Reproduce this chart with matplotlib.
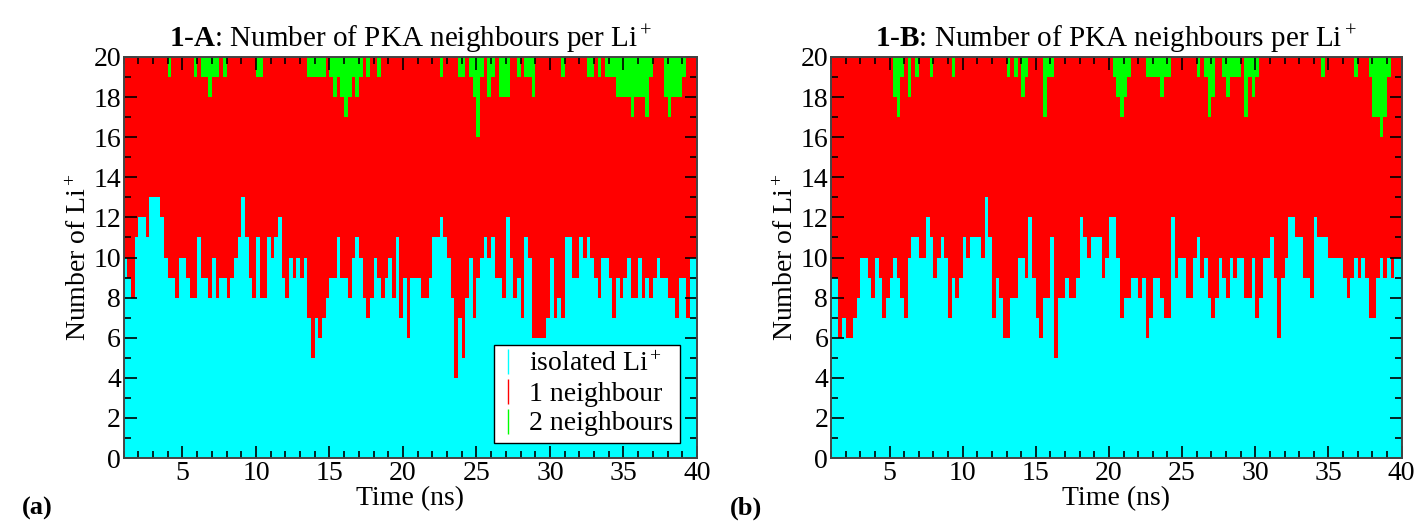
import numpy as np
import matplotlib
matplotlib.use("Agg")
import matplotlib.pyplot as plt
from matplotlib.lines import Line2D
from matplotlib.ticker import MultipleLocator

plt.rcParams["font.family"] = "Liberation Serif"
plt.rcParams["mathtext.fontset"] = "custom"
plt.rcParams["mathtext.rm"] = "Liberation Serif"
plt.rcParams["mathtext.it"] = "Liberation Serif:italic"
plt.rcParams["mathtext.bf"] = "Liberation Serif:bold"

# --- Data (0.25 ns bins from 1 to 40 ns) ---
t_start = 1.0
t_step = 0.25
n_li = 20

# 1-A: isolated Li+ per bin
iso_a = [10, 9, 8, 11, 12, 12, 11, 13, 13, 13,
         12, 10, 9, 9, 8, 10, 10, 9, 8, 8,
         11, 9, 9, 8, 10, 8, 9, 9, 8, 9,
         10, 11, 13, 11, 9, 8, 11, 8, 8, 11,
         10, 11, 12, 9, 8, 10, 9, 10, 9, 10,
         7, 5, 7, 6, 7, 8, 9, 9, 11, 9,
         9, 8, 10, 11, 10, 8, 7, 8, 10, 9,
         8, 9, 10, 8, 11, 7, 9, 6,
         9, 9, 9, 8, 8, 9, 11, 11, 12, 11,
         10, 8, 4, 7, 5, 8, 10, 7, 9, 10,
         11, 10, 11, 9, 9, 8, 12, 10, 8, 9,
         7, 11, 10, 6, 6, 6, 6, 7, 10, 7,
         8, 7, 11, 11, 9, 9, 11, 10, 11, 10,
         9, 8, 10, 10, 9, 7, 9, 8, 9, 10,
         8, 8, 10, 8, 9, 8, 9, 10, 9, 9,
         8, 8, 7, 9, 9, 7, 10, 10]

# 1-A: Li+ with 2 neighbours per bin
two_a = [0, 0, 0, 0, 0, 0, 0, 0, 0, 0,
         0, 0, 1, 0, 0, 0, 0, 0, 0, 1,
         0, 1, 1, 2, 1, 1, 0, 1, 0, 0,
         0, 0, 0, 0, 0, 0, 1, 1, 0, 0,
         0, 0, 0, 0, 0, 0, 0, 0, 0, 0,
         1, 1, 1, 1, 1, 0, 1, 2, 1, 2,
         3, 2, 1, 2, 1, 0, 1, 0, 0, 1,
         0, 0, 0, 0, 0, 0, 0, 0, 0, 0,
         0, 0, 0, 0, 0, 0, 1, 0, 0, 0,
         0, 1, 1, 0, 1, 2, 4, 1, 0, 2,
         1, 0, 2, 2, 2, 0, 0, 1, 0, 1,
         1, 2, 0, 0, 0, 0, 0, 0, 0, 1,
         0, 0, 0, 0, 0, 0, 1, 1, 0, 1,
         0, 1, 1, 1, 2, 2, 2, 2, 3, 2,
         2, 2, 3, 1, 0, 0, 0, 2, 3, 2,
         2, 2, 1, 0, 0, 0]

# 1-B: isolated Li+ per bin
iso_b = [9, 9, 6, 7, 6, 6, 7, 8, 10, 10,
         9, 8, 10, 9, 7, 8, 9, 10, 9, 8,
         7, 10, 11, 11, 10, 10, 12, 11, 9, 10,
         11, 10, 7, 9, 8, 9, 11, 10, 11, 11,
         11, 10, 13, 11, 7, 9, 8, 6, 6, 8,
         8, 10, 10, 9, 12, 9, 7, 6, 8, 8,
         11, 5, 8, 8, 9, 8, 8, 9, 12, 11,
         10, 11, 11, 11, 9, 10,
         12, 12, 10, 7, 8, 8, 9, 9, 8, 9,
         6, 7, 9, 9, 8, 7, 7, 12, 9, 10,
         10, 8, 8, 10, 11, 9, 10, 8, 7, 8,
         10, 9, 8, 10, 9, 10, 10, 8, 8, 10,
         7, 8, 10, 10, 11, 9, 6, 9, 10, 12,
         12, 11, 11, 9, 9, 8, 12, 11, 11, 11,
         10, 10, 10, 10, 9, 8, 9, 10, 9, 10,
         9, 7, 7, 9, 10, 9, 10, 9, 10, 10]

# 1-B: Li+ with 2 neighbours per bin
two_b = [0, 0, 0, 0, 0, 0, 0, 0, 0, 0,
         0, 0, 0, 0, 0, 0, 0, 2, 3, 1,
         0, 2, 0, 1, 0, 0, 0, 1, 0, 0,
         0, 0, 0, 1, 0, 0, 0, 0, 0, 0,
         0, 0, 0, 0, 0, 0, 0, 0, 1, 0,
         1, 0, 2, 1, 0, 0, 0, 0, 3, 1,
         1, 0, 0, 0, 0, 0, 0, 0, 0, 0,
         0, 0, 0, 0, 0, 0, 0, 1, 2, 3,
         2, 1, 0, 0, 0, 0, 1, 1, 1, 1,
         2, 1, 1, 0, 0, 0, 0, 0, 0, 0,
         1, 0, 1, 3, 2, 0, 0, 1, 2, 1,
         1, 1, 0, 3, 1, 2, 1, 0, 0, 0,
         0, 0, 0, 0, 0, 0, 0, 0, 0, 0,
         0, 0, 0, 0, 1, 0, 0, 0, 0, 0,
         0, 0, 0, 1, 0, 0, 0, 1, 3, 3,
         4, 3, 1, 0, 0, 0]

panels = [
    ("1", "A", iso_a, two_a, "(a)"),
    ("1", "B", iso_b, two_b, "(b)"),
]

c_iso = "#00ffff"
c_one = "#ff0000"
c_two = "#00ff00"

fig = plt.figure(figsize=(14.2, 5.21), dpi=100)
ax_a = fig.add_axes([0.0871, 0.1209, 0.4037, 0.7697])
ax_b = fig.add_axes([0.5852, 0.1209, 0.4018, 0.7697])

for ax, (num, let, iso, two, tag) in zip([ax_a, ax_b], panels):
    iso = np.array(iso)
    two = np.array(two)
    one = n_li - iso - two
    edges = t_start + t_step * np.arange(len(iso) + 1)

    ax.stairs(iso, edges, baseline=0, fill=True, color=c_iso, lw=0)
    ax.stairs(iso + one, edges, baseline=iso, fill=True, color=c_one, lw=0)
    ax.stairs(iso + one + two, edges, baseline=iso + one, fill=True, color=c_two, lw=0)

    ax.set_xlim(1, 40)
    ax.set_ylim(0, 20)
    ax.xaxis.set_major_locator(MultipleLocator(5))
    ax.xaxis.set_minor_locator(MultipleLocator(1))
    ax.yaxis.set_major_locator(MultipleLocator(2))
    ax.yaxis.set_minor_locator(MultipleLocator(1))
    ax.tick_params(which="both", direction="in", top=True, right=True,
                   labelsize=20, width=1.2, color="black", pad=2)
    ax.tick_params(which="major", length=9)
    ax.tick_params(which="minor", length=5)
    for sp in ax.spines.values():
        sp.set_linewidth(1.4)
        sp.set_color("#444444")

    ax.set_xlabel("Time (ns)", fontsize=20, labelpad=0)
    ax.set_ylabel("Number of Li$^+$", fontsize=20, labelpad=1)
    ax.set_title(r"$\mathbf{%s}$-$\mathbf{%s}$: Number of PKA neighbours per Li$^+$" % (num, let),
                 fontsize=21, pad=7)
    ax.text(-0.178, -0.125, tag, transform=ax.transAxes, fontsize=19,
            fontweight="bold", ha="left", va="center")

handles = [
    Line2D([], [], color=c_iso, marker="|", linestyle="none", markersize=18, markeredgewidth=1.0),
    Line2D([], [], color=c_one, marker="|", linestyle="none", markersize=18, markeredgewidth=1.0),
    Line2D([], [], color=c_two, marker="|", linestyle="none", markersize=18, markeredgewidth=1.0),
]
leg = ax_a.legend(handles, ["isolated Li$^+$", "1 neighbour", "2 neighbours"],
                  loc="lower right", bbox_to_anchor=(0.97, 0.037), fontsize=20,
                  frameon=True, fancybox=False, framealpha=1, edgecolor="black",
                  labelspacing=0.15, handlelength=0.5, handletextpad=0.5,
                  borderpad=0.25, borderaxespad=0)
leg.get_frame().set_linewidth(1.0)

plt.savefig("out.png", dpi=100)
